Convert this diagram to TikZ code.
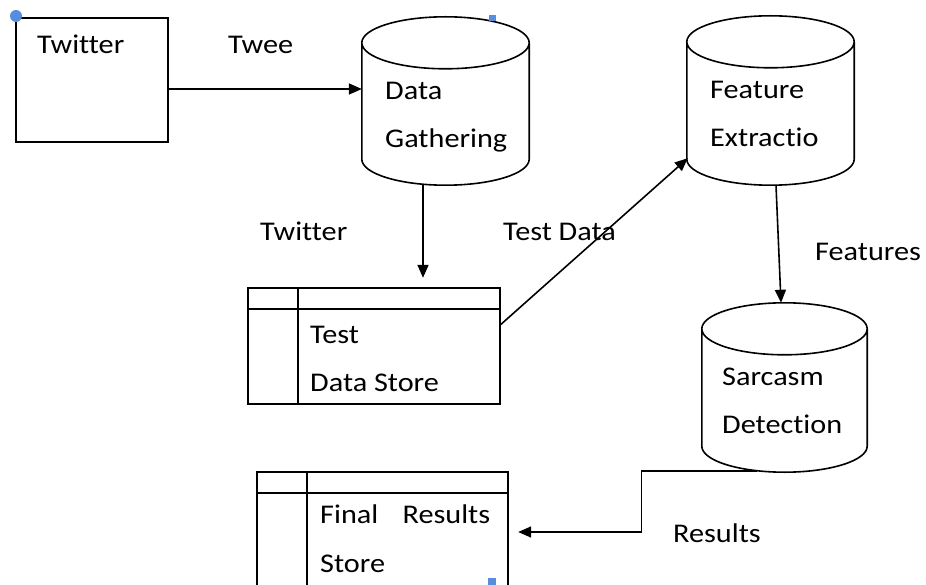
\documentclass[tikz,border=0pt]{standalone}
\usepackage{fontspec}
\setmainfont{Carlito}[FakeStretch=1.12,Ligatures=CommonOff]
\usetikzlibrary{calc,arrows.meta}
\definecolor{handle}{RGB}{88,140,220}
\tikzset{
  ln/.style={line width=1.6pt, black},
  arr/.style={ln, -{Triangle[length=13pt,width=11pt]}},
  txt/.style={anchor=base west, inner sep=0pt, font=\fontsize{27}{32}\selectfont},
  boxnode/.style={draw=none, inner sep=0pt},
}
\newcommand\drawcyl[1]{%
  \draw[ln] let \p1=(#1.north west), \p2=(#1.south east), \n1={(\x2-\x1)/2} in
    ({\x1+\n1},{\y1-26pt}) ellipse [x radius=\n1, y radius=26pt]
    (\x1,{\y1-26pt}) -- (\x1,{\y2+26pt})
    arc[start angle=180, end angle=360, x radius=\n1, y radius=26pt]
    -- (\x2,{\y1-26pt});}
\newcommand\drawtable[1]{%
  \draw[ln] (#1.north west) rectangle (#1.south east);
  \draw[ln] ($(#1.north west)+(0,21)$) -- ($(#1.north east)+(0,21)$);
  \draw[ln] ($(#1.north west)+(50,0)$) -- ($(#1.south west)+(50,0)$);}
\begin{document}
\begin{tikzpicture}[x=1pt,y=-1pt]
\useasboundingbox (0,0) rectangle (926,585);
\clip (0,0) rectangle (926,585);
% shapes (invisible named frames)
\node[boxnode, draw, ln, minimum width=152pt, minimum height=124pt] (tw) at (92,80) {};
\node[boxnode, minimum width=167pt, minimum height=168pt] (dg) at (445.5,101) {};
\node[boxnode, minimum width=167pt, minimum height=169pt] (fe) at (770.5,100.5) {};
\node[boxnode, minimum width=165pt, minimum height=169pt] (sd) at (784.5,387.5) {};
\node[boxnode, minimum width=252pt, minimum height=116pt] (tds) at (374,346) {};
\node[boxnode, minimum width=251pt, minimum height=148pt] (fr) at (382.5,546) {};
\drawcyl{dg}
\drawcyl{fe}
\drawcyl{sd}
\drawtable{tds}
\drawtable{fr}
% texts
\node[txt] (t1) at (37,54) {Twitter};
\node[txt] (t2) at (228,54) {Twee};
\node[txt] (t3) at (385,100) {Data};
\node[txt] (t4) at (385,148) {Gathering};
\node[txt] (t5) at (710,99) {Feature};
\node[txt] (t6) at (710,147) {Extractio};
\node[txt] (t7) at (260,241) {Twitter};
\node[txt] (t8) at (503,241) {Test Data};
\node[txt] (t9) at (815,261) {Features};
\node[txt] (t10) at (310,343) {Test};
\node[txt] (t11) at (310,391) {Data Store};
\node[txt] (t12) at (722,385) {Sarcasm};
\node[txt] (t13) at (722,433) {Detection};
\node[txt] (t14) at (320,523) {Final\hspace{0.9em}Results};
\node[txt] (t15) at (320,572) {Store};
\node[txt] (t16) at (673,542) {Results};
% connectors
\coordinate (a1) at ($(tw.east)+(0,9)$);
\draw[arr] (a1) -- (a1 -| dg.west);
\coordinate (a2) at ($(dg.south)+(-22.5,0)$);
\draw[arr, shorten >=10pt] (a2) -- (a2 |- tds.north);
\coordinate (a3) at ($(tds.east)+(0,-21)$);
\coordinate (a4) at ($(fe.south west)+(1,-27)$);
\draw[arr] (a3) -- (a4);
\coordinate (a5) at ($(fe.south)+(5.5,0)$);
\coordinate (a6) at ($(sd.north)+(-3.5,0)$);
\draw[arr] (a5) -- (a6);
\coordinate (a7) at ($(sd.south)+(-27.5,-1.5)$);
\coordinate (a8) at ($(fr.east)+(0,-14)$);
\draw[arr, shorten >=10pt] (a7) -- ++(-115.5,0) |- (a8);
% blue handles
\fill[handle] (16,16) circle (6);
\fill[handle] (489,15) rectangle (496,21);
\fill[handle] (488,578) rectangle (496,585);
\end{tikzpicture}
\end{document}
